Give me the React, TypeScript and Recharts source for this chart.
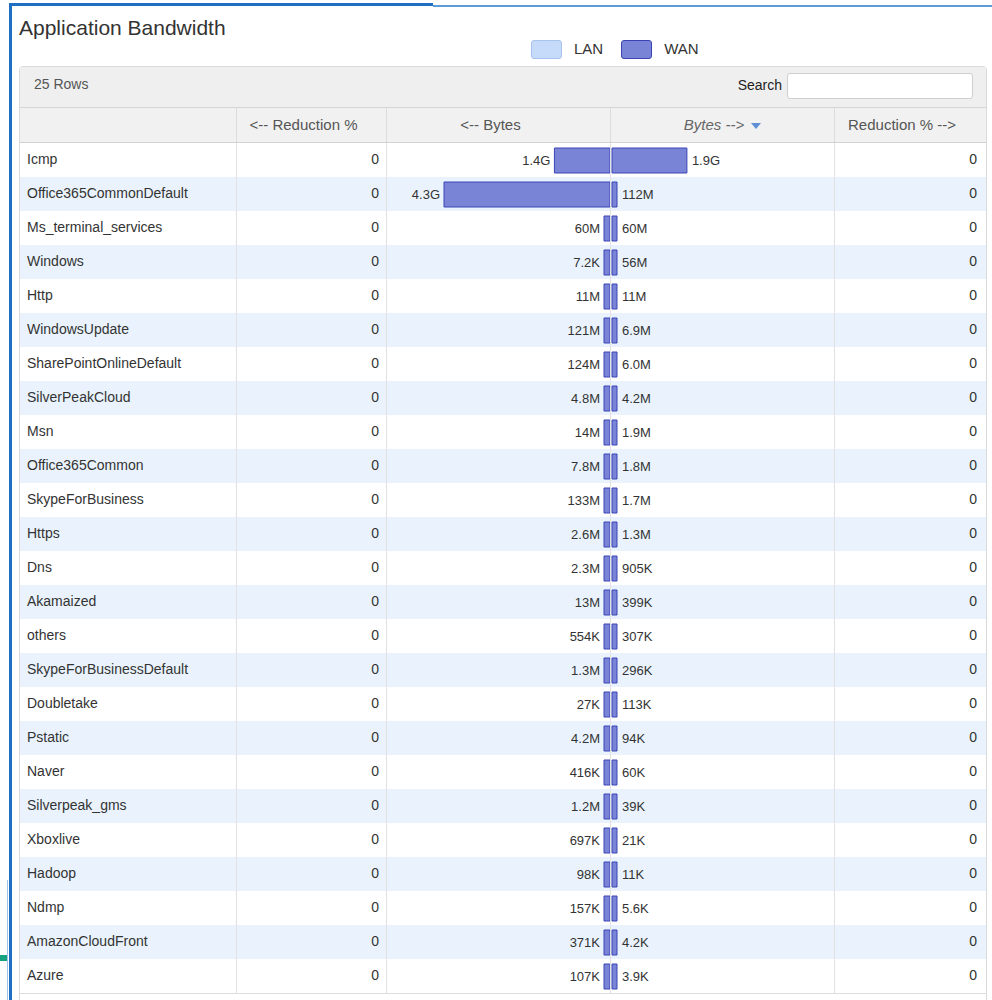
import React from "react";
import { BarChart, Bar, XAxis, YAxis, LabelList } from "recharts";

// application rows, top to bottom, sorted by "Bytes -->"
const apps = [
  "Icmp", "Office365CommonDefault", "Ms_terminal_services", "Windows", "Http",
  "WindowsUpdate", "SharePointOnlineDefault", "SilverPeakCloud", "Msn", "Office365Common",
  "SkypeForBusiness", "Https", "Dns", "Akamaized", "others",
  "SkypeForBusinessDefault", "Doubletake", "Pstatic", "Naver", "Silverpeak_gms",
  "Xboxlive", "Hadoop", "Ndmp", "AmazonCloudFront", "Azure",
];

// "<-- Bytes"
const bytesIn = [
  1.44e9, 4.3e9, 60e6, 7.2e3, 11e6,
  121e6, 124e6, 4.8e6, 14e6, 7.8e6,
  133e6, 2.6e6, 2.3e6, 13e6, 554e3,
  1.3e6, 27e3, 4.2e6, 416e3, 1.2e6,
  697e3, 98e3, 157e3, 371e3, 107e3,
];

// "Bytes -->"
const bytesOut = [
  1.94e9, 112e6, 60e6, 56e6, 11e6,
  6.9e6, 6.0e6, 4.2e6, 1.9e6, 1.8e6,
  1.7e6, 1.3e6, 905e3, 399e3, 307e3,
  296e3, 113e3, 94e3, 60e3, 39e3,
  21e3, 11e3, 5.6e3, 4.2e3, 3.9e3,
];

const reductionIn = [0, 0, 0, 0, 0, 0, 0, 0, 0, 0, 0, 0, 0, 0, 0, 0, 0, 0, 0, 0, 0, 0, 0, 0, 0];
const reductionOut = [0, 0, 0, 0, 0, 0, 0, 0, 0, 0, 0, 0, 0, 0, 0, 0, 0, 0, 0, 0, 0, 0, 0, 0, 0];

const columnTitles = ["", "<-- Reduction %", "<-- Bytes", "Bytes -->", "Reduction % -->"];
const legendItems = [
  { name: "LAN", fill: "#c6dafa", stroke: "#a8c3ee" },
  { name: "WAN", fill: "#7a84d6", stroke: "#3a44b6" },
];

const FONT = '"Liberation Sans", Arial, sans-serif';
const ROW_H = 34;
const COL_W = [216, 150, 224, 224, 151];
const BAR_FILL = "#7a84d6";
const BAR_STROKE = "#3a44b6";

const rows = apps.map((name, i) => ({
  name,
  inBytes: bytesIn[i],
  outBytes: bytesOut[i],
  redIn: reductionIn[i],
  redOut: reductionOut[i],
}));
const maxBytes = Math.max(...bytesIn, ...bytesOut);

function formatBytes(v: number) {
  const units: [string, number][] = [["G", 1e9], ["M", 1e6], ["K", 1e3]];
  for (const [s, u] of units) {
    if (v >= u) {
      const n = v / u;
      return (n < 10 ? n.toFixed(1) : String(Math.round(n))) + s;
    }
  }
  return String(v);
}

function BarLabel(props: any) {
  const { x, y, width, height, value, side } = props;
  const left = Math.min(x, x + width);
  const right = Math.max(x, x + width);
  const isLeft = side === "left";
  return (
    <text
      x={isLeft ? left - 4 : right + 5}
      y={y + height / 2}
      dy={4}
      textAnchor={isLeft ? "end" : "start"}
      fontSize={13}
      fontFamily={FONT}
      fill="#333"
    >
      {formatBytes(value)}
    </text>
  );
}

function BytesChart({ side }: { side: "left" | "right" }) {
  const isLeft = side === "left";
  const key = isLeft ? "inBytes" : "outBytes";
  return (
    <BarChart
      layout="vertical"
      width={isLeft ? 223 : 224}
      height={rows.length * ROW_H}
      data={rows}
      margin={isLeft ? { top: 0, right: 0, bottom: 0, left: 57 } : { top: 0, right: 57, bottom: 0, left: 1 }}
      barSize={25}
    >
      <XAxis type="number" hide domain={[0, maxBytes]} reversed={isLeft} />
      <YAxis type="category" dataKey="name" hide />
      <Bar
        dataKey={key}
        fill={BAR_FILL}
        stroke={BAR_STROKE}
        strokeWidth={1}
        minPointSize={isLeft ? 6 : 5}
        isAnimationActive={false}
      >
        <LabelList dataKey={key} content={(p: any) => <BarLabel {...p} side={side} />} />
      </Bar>
    </BarChart>
  );
}

const cellBase: React.CSSProperties = {
  boxSizing: "border-box",
  height: ROW_H,
  lineHeight: ROW_H - 1 + "px",
  fontSize: 14,
  color: "#333",
  whiteSpace: "nowrap",
  overflow: "hidden",
};

export default function App() {
  return (
    <div style={{ position: "relative", width: 992, height: 1000, background: "#fff", fontFamily: FONT, overflow: "hidden" }}>
      <style>{"body{margin:0}"}</style>

      {/* window frame */}
      <div style={{ position: "absolute", left: 9, top: 3, width: 424, height: 3, background: "#1f6fc2" }} />
      <div style={{ position: "absolute", left: 433, top: 5, width: 559, height: 2, background: "#5b9bd8" }} />
      <div style={{ position: "absolute", left: 9, top: 3, width: 3, height: 997, background: "#1f6fc2" }} />
      <div style={{ position: "absolute", left: 7, top: 880, width: 1, height: 120, background: "#9fc3e6" }} />
      <div style={{ position: "absolute", left: 0, top: 955, width: 7, height: 6, background: "#17a382" }} />

      {/* title */}
      <div style={{ position: "absolute", left: 19, top: 15, fontSize: 21, color: "#333", lineHeight: "26px" }}>
        Application Bandwidth
      </div>

      {/* legend */}
      <div style={{ position: "absolute", left: 531, top: 39, display: "flex", alignItems: "center" }}>
        {legendItems.map((l, i) => (
          <div key={l.name} style={{ display: "flex", alignItems: "center", marginLeft: i ? 18 : 0 }}>
            <div
              style={{
                width: 29,
                height: 17,
                background: l.fill,
                border: "1px solid " + l.stroke,
                borderRadius: 3,
              }}
            />
            <span style={{ marginLeft: 12, fontSize: 15, color: "#333", lineHeight: "20px" }}>{l.name}</span>
          </div>
        ))}
      </div>

      {/* table panel */}
      <div
        style={{
          position: "absolute",
          left: 19,
          top: 66,
          width: 968,
          height: 940,
          boxSizing: "border-box",
          border: "1px solid #dadada",
          borderRadius: "4px 4px 0 0",
        }}
      >
        {/* toolbar */}
        <div style={{ position: "relative", height: 40, background: "#efefef", borderBottom: "1px solid #d6d6d6", borderRadius: "3px 3px 0 0" }}>
          <div style={{ position: "absolute", left: 14, top: 7, fontSize: 14, color: "#555", lineHeight: "20px" }}>25 Rows</div>
          <div style={{ position: "absolute", right: 204, top: 8, fontSize: 14, color: "#222", lineHeight: "20px" }}>Search</div>
          <div
            style={{
              position: "absolute",
              left: 767,
              top: 6,
              width: 186,
              height: 26,
              boxSizing: "border-box",
              background: "#fff",
              border: "1px solid #cfcfcf",
              borderRadius: 3,
            }}
          />
        </div>

        {/* column headers */}
        <div style={{ display: "flex", height: 35, background: "#f1f1f1", borderBottom: "1px solid #d2d2d2", boxSizing: "border-box" }}>
          {columnTitles.map((t, i) => (
            <div
              key={i}
              style={{
                width: COL_W[i],
                boxSizing: "border-box",
                borderLeft: i ? "1px solid #dcdcdc" : "none",
                textAlign: "center",
                paddingRight: 16,
                fontSize: 15,
                lineHeight: "34px",
                color: i === 3 ? "#666" : "#555",
                fontStyle: i === 3 ? "italic" : "normal",
                whiteSpace: "nowrap",
              }}
            >
              {i === 3 ? (
                <span style={{ position: "relative", left: 8 }}>
                  {t}
                  <svg width="10" height="6" style={{ marginLeft: 7, verticalAlign: "middle" }}>
                    <path d="M0 0 L10 0 L5 6 Z" fill="#5e8fd4" />
                  </svg>
                </span>
              ) : (
                t
              )}
            </div>
          ))}
        </div>

        {/* body rows */}
        <div style={{ position: "relative" }}>
          {rows.map((r, i) => (
            <div key={r.name} style={{ display: "flex", background: i % 2 ? "#eaf3fd" : "#fff" }}>
              <div style={{ ...cellBase, width: COL_W[0], paddingLeft: 7 }}>{r.name}</div>
              <div style={{ ...cellBase, width: COL_W[1], borderLeft: "1px solid #e2e2e2", textAlign: "right", paddingRight: 7 }}>
                {r.redIn}
              </div>
              <div style={{ ...cellBase, width: COL_W[2], borderLeft: "1px solid #e2e2e2" }} />
              <div style={{ ...cellBase, width: COL_W[3], borderLeft: "1px solid #e2e2e2" }} />
              <div style={{ ...cellBase, width: COL_W[4], borderLeft: "1px solid #e2e2e2", textAlign: "right", paddingRight: 8 }}>
                {r.redOut}
              </div>
            </div>
          ))}
          <div style={{ height: 1, background: "#dcdcdc" }} />

          <div style={{ position: "absolute", left: 367, top: 0 }}>
            <BytesChart side="left" />
          </div>
          <div style={{ position: "absolute", left: 591, top: 0 }}>
            <BytesChart side="right" />
          </div>
        </div>
      </div>
    </div>
  );
}
